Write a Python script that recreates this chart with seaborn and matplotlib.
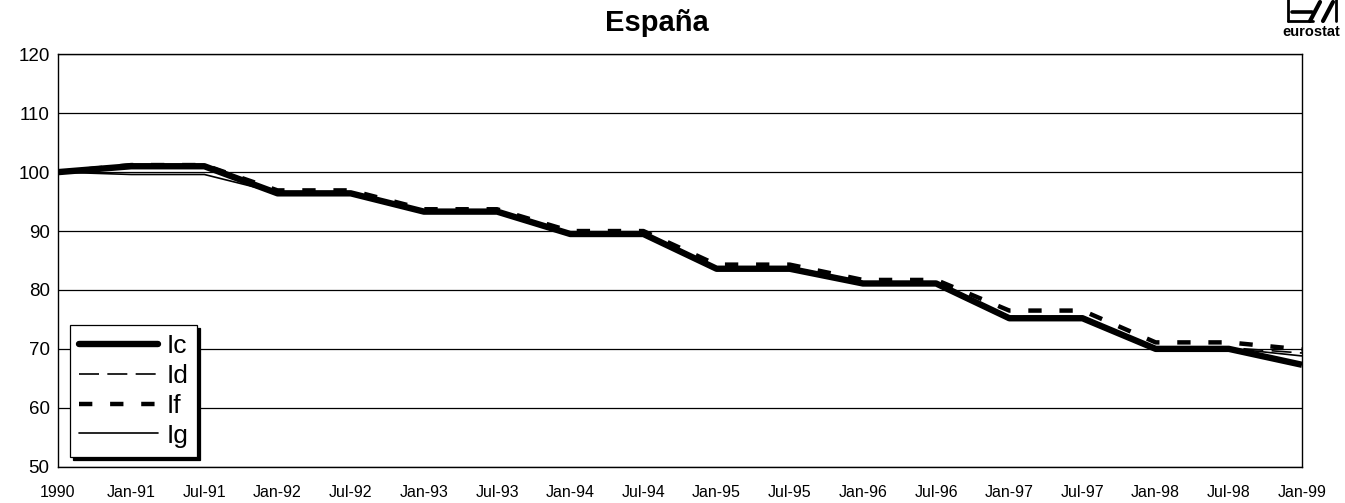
import matplotlib
matplotlib.use("Agg")
import matplotlib.pyplot as plt
from matplotlib.lines import Line2D
import numpy as np
import pandas as pd
import seaborn as sns

# Half-yearly index values (1990 = 100)
periods = ["1990", "Jan-91", "Jul-91", "Jan-92", "Jul-92", "Jan-93", "Jul-93",
           "Jan-94", "Jul-94", "Jan-95", "Jul-95", "Jan-96", "Jul-96",
           "Jan-97", "Jul-97", "Jan-98", "Jul-98", "Jan-99"]
ic = [100, 101.0, 101.0, 96.4, 96.4, 93.3, 93.3, 89.5, 89.5, 83.6, 83.6,
      81.1, 81.1, 75.2, 75.2, 70.0, 70.0, 67.3]
id_ = [100, 100.8, 100.8, 96.6, 96.6, 93.5, 93.5, 89.7, 89.7, 83.9, 83.9,
       81.3, 81.3, 75.5, 75.5, 70.2, 70.2, 69.3]
if_ = [100, 101.2, 101.2, 96.9, 96.9, 93.7, 93.7, 90.0, 90.0, 84.3, 84.3,
       81.7, 81.7, 76.5, 76.5, 71.1, 71.1, 69.9]
ig = [100, 99.6, 99.6, 96.5, 96.5, 93.4, 93.4, 89.6, 89.6, 83.8, 83.8,
      81.2, 81.2, 75.3, 75.3, 70.1, 70.1, 68.8]
series_names = ["Ic", "Id", "If", "Ig"]
y_ticks = [50, 60, 70, 80, 90, 100, 110, 120]

sns.set_theme(style="white")
plt.rcParams["font.family"] = ["Liberation Sans", "DejaVu Sans"]
plt.rcParams.update({"text.color": "black", "axes.labelcolor": "black",
                     "xtick.color": "black", "ytick.color": "black"})

pos = np.arange(len(periods))
df = pd.DataFrame({"pos": pos, "Ic": ic, "Id": id_, "If": if_, "Ig": ig})

fig = plt.figure(figsize=(13.45, 5.03), dpi=100)
ax = fig.add_axes([58 / 1345, 1 - 466.7 / 503, (1302 - 58) / 1345, (466.7 - 54.3) / 503])

styles = {
    "Ic": dict(lw=4.6, linestyle="-"),
    "Id": dict(lw=1.2, linestyle=(0, (12, 5))),
    "If": dict(lw=3.2, linestyle=(0, (3, 4))),
    "Ig": dict(lw=1.2, linestyle="-"),
}
for name in series_names:
    sns.lineplot(data=df, x="pos", y=name, ax=ax, color="black",
                 sort=False, label=name, solid_capstyle="butt",
                 dash_capstyle="butt", legend=False, **styles[name])

ax.set_xlim(0, len(periods) - 1)
ax.set_ylim(50, 120)
ax.set_yticks(y_ticks)
ax.set_yticklabels([str(v) for v in y_ticks], fontsize=13.5)
ax.set_xticks(pos)
ax.set_xticklabels(periods, fontsize=11.5)
ax.set_xlabel("")
ax.set_ylabel("")
ax.yaxis.grid(True, color="black", lw=0.9)
ax.xaxis.grid(False)
ax.tick_params(axis="y", direction="out", length=4, width=0.8, pad=2)
ax.tick_params(axis="x", direction="out", length=3, width=0.6, pad=10)
for sp in ax.spines.values():
    sp.set_visible(True)
    sp.set_color("black")
    sp.set_linewidth(1.0)

handles = [Line2D([], [], color="black", **styles[n]) for n in series_names]
leg = fig.legend(handles, series_names, loc="upper left",
                 bbox_to_anchor=(70 / 1345, 1 - 325 / 503),
                 bbox_transform=fig.transFigure, fontsize=19,
                 frameon=True, fancybox=False, framealpha=1,
                 edgecolor="black", borderaxespad=0, borderpad=0.35,
                 handlelength=3.0, handletextpad=0.3, labelspacing=0.22,
                 shadow={"color": "black", "alpha": 1})
leg.get_frame().set_linewidth(0.9)

fig.text(657 / 1345, 1 - 23 / 503, "España", ha="center", va="center",
         fontsize=21, fontweight="bold")

# eurostat logo in the top right corner
W, H = 1345, 503
def fx(px):
    return px / W
def fy(py):
    return 1 - py / H
logo_lines = [
    ([1288, 1288], [-2, 21], 2.0),
    ([1288, 1313], [21, 21], 2.0),
    ([1336, 1336], [-2, 21], 2.0),
    ([1292, 1312], [12, 12], 2.6),
    ([1310, 1320], [21, 2], 3.0),
    ([1323, 1333], [21, 2], 3.0),
]
for xs, ys, lw in logo_lines:
    fig.add_artist(Line2D([fx(v) for v in xs], [fy(v) for v in ys],
                          color="black", lw=lw, transform=fig.transFigure))
fig.text(fx(1311), fy(32), "eurostat", ha="center", va="center",
         fontsize=10.5, fontweight="bold")

fig.savefig("out.png", dpi=100, facecolor="white")
